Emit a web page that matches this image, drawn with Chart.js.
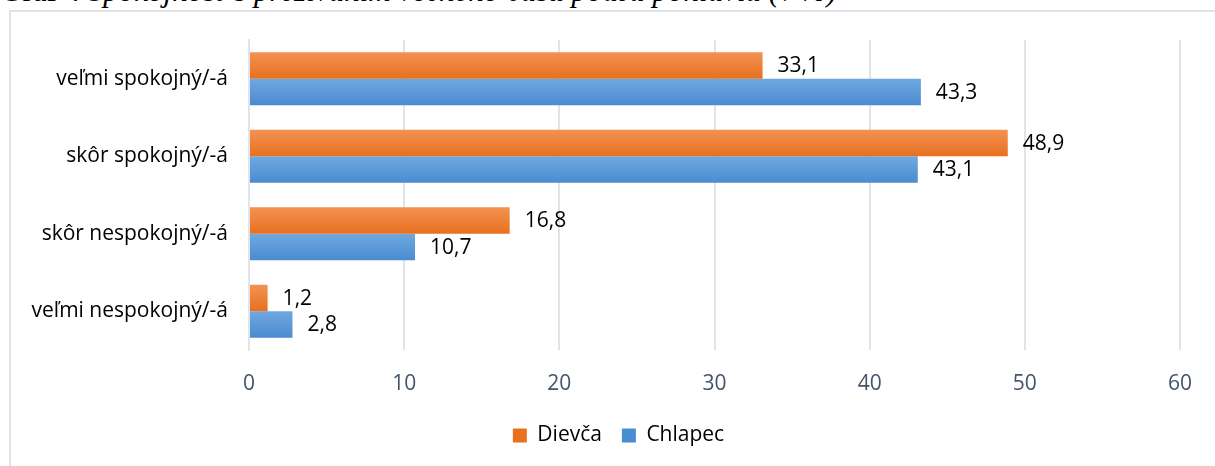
<!DOCTYPE html>
<html>
<head>
<meta charset="utf-8">
<script src="https://cdn.jsdelivr.net/npm/chart.js@4.4.1/dist/chart.umd.min.js"></script>
<style>
  html, body { margin: 0; padding: 0; background: #fff; overflow: hidden; width: 1215px; height: 466px; }
  #title { position: absolute; left: 0; top: -25px; white-space: nowrap; font-family: "Liberation Serif", "DejaVu Serif", serif; font-size: 31px; line-height: 31px; color: #000; }
  #title i { font-style: italic; }
  #frame { position: absolute; left: 9px; top: 10px; width: 1240px; height: 470px; border-left: 2px solid #dfe2e8; border-top: 2px solid #dfe2e8; }
  #c { position: absolute; left: 11px; top: 12px; }
</style>
</head>
<body>
<div id="title">Graf 4 <i>Spokojnosť s prežívaním voľného času podľa pohlavia (v %)</i></div>
<div id="frame"></div>
<canvas id="c" width="1218" height="454"></canvas>
<script>
const categories = ["veľmi spokojný/-á", "skôr spokojný/-á", "skôr nespokojný/-á", "veľmi nespokojný/-á"];
const seriesNames = ["Dievča", "Chlapec"];
const dievcaValues = [33.1, 48.9, 16.8, 1.2];
const chlapecValues = [43.3, 43.1, 10.7, 2.8];
const xTicks = [0, 10, 20, 30, 40, 50, 60];

const FONT = "'Open Sans', 'Noto Sans', sans-serif";
const FS = 21;
const CAT_PCT = 0.684;
const LEGEND_SHIFT = 46;

function gradient(top, bottom, solid) {
  return (ctx) => {
    if (ctx.type !== 'data') return solid;
    const chart = ctx.chart;
    const y = chart.scales && chart.scales.y;
    if (!y) return solid;
    const p0 = y.getPixelForValue(0), p1 = y.getPixelForValue(1);
    const center = y.getPixelForValue(ctx.dataIndex);
    if (!isFinite(p0) || !isFinite(p1) || !isFinite(center)) return solid;
    const h = Math.abs(p1 - p0) * CAT_PCT / 2;
    if (!(h > 0)) return solid;
    const t = ctx.datasetIndex === 0 ? center - h : center;
    const g = chart.ctx.createLinearGradient(0, t, 0, t + h);
    g.addColorStop(0, top);
    g.addColorStop(1, bottom);
    return g;
  };
}

const valueLabels = {
  id: 'valueLabels',
  afterDatasetsDraw(chart) {
    const ctx = chart.ctx;
    ctx.save();
    ctx.font = FS + "px " + FONT;
    ctx.fillStyle = '#000';
    ctx.textAlign = 'left';
    ctx.textBaseline = 'middle';
    chart.data.datasets.forEach((ds, di) => {
      const meta = chart.getDatasetMeta(di);
      meta.data.forEach((bar, i) => {
        const txt = String(ds.data[i]).replace('.', ',');
        ctx.fillText(txt, bar.x + 15, bar.y + 1);
      });
    });
    ctx.restore();
  }
};

const legendShift = {
  id: 'legendShift',
  afterLayout(chart) {
    if (chart.legend) { chart.legend.left += LEGEND_SHIFT; }
  }
};

new Chart(document.getElementById('c'), {
  type: 'bar',
  data: {
    labels: categories,
    datasets: [
      { label: seriesNames[0], data: dievcaValues,
        backgroundColor: gradient('#f39253', '#e8701f', '#ef7d2f'),
        categoryPercentage: CAT_PCT, barPercentage: 1 },
      { label: seriesNames[1], data: chlapecValues,
        backgroundColor: gradient('#6fa8df', '#4a8cd0', '#5b9bd5'),
        categoryPercentage: CAT_PCT, barPercentage: 1 }
    ]
  },
  options: {
    indexAxis: 'y',
    responsive: false,
    animation: false,
    layout: { padding: { left: 0, right: 49, top: 28, bottom: 10 } },
    scales: {
      x: {
        min: 0, max: 60,
        afterBuildTicks: (axis) => { axis.ticks = xTicks.map(v => ({ value: v })); },
        afterFit: (axis) => { axis.height = 55; },
        grid: { color: '#e1e4ea', lineWidth: 2, drawTicks: false },
        border: { display: false },
        ticks: { color: '#44546a', font: { family: FONT, size: FS }, padding: 21 }
      },
      y: {
        afterFit: (axis) => { axis.width = 238; axis.paddingTop = 0; axis.paddingBottom = 0; },
        grid: { display: false, drawTicks: false },
        border: { display: true, color: '#e1e4ea', width: 2 },
        ticks: { color: '#000', font: { family: FONT, size: FS }, padding: 21 }
      }
    },
    plugins: {
      legend: {
        position: 'bottom',
        labels: { boxWidth: 14, boxHeight: 14, padding: 20, color: '#000', font: { family: FONT, size: FS } }
      },
      tooltip: { enabled: false }
    }
  },
  plugins: [valueLabels, legendShift]
});
</script>
</body>
</html>
